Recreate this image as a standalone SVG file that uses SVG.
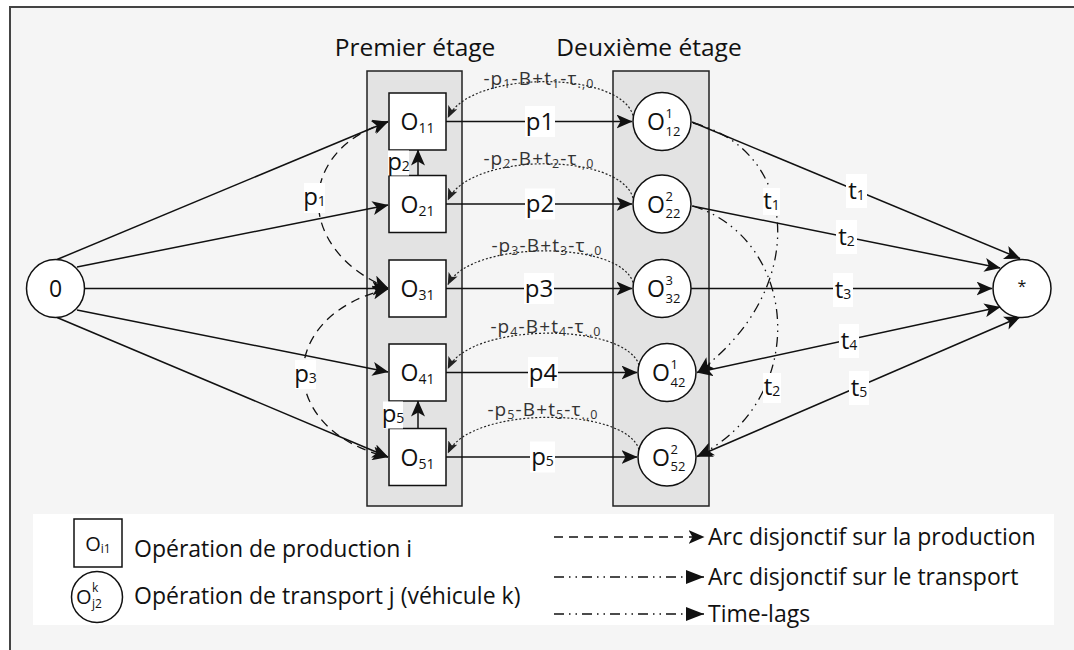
<svg xmlns="http://www.w3.org/2000/svg" width="1074" height="650" viewBox="0 0 1074 650">
<style>
text{font-family:"Open Sans","DejaVu Sans",sans-serif;fill:#111}
.title{font-size:24.5px}
.n{font-size:23px}
.ns{font-size:14px}
.ss{font-size:13px}
.el{font-size:24px}
.tl{font-size:19px;fill:#333;letter-spacing:1.1px}
.tls{font-size:12.5px}
.lg{font-size:23px}
.bg{fill:#fff}
.stage{fill:#e3e3e3;stroke:#222;stroke-width:1.5}
.box{fill:#fff;stroke:#111;stroke-width:1.5}
.e{fill:none;stroke:#111;stroke-width:1.5}
.dash{fill:none;stroke:#111;stroke-width:1.3;stroke-dasharray:9 6}
.dd{fill:none;stroke:#111;stroke-width:1.3;stroke-dasharray:10 5 1.5 5 1.5 5}
.dot{fill:none;stroke:#222;stroke-width:1.2;stroke-dasharray:2 2}
</style>
<defs>
<marker id="ah" viewBox="0 0 16 14" refX="15.5" refY="7" markerWidth="16" markerHeight="14" markerUnits="userSpaceOnUse" orient="auto-start-reverse"><path d="M0,0 L16,7 L0,14 L4,7 Z" fill="#111"/></marker>
<marker id="as" viewBox="0 0 12 10" refX="11.5" refY="5" markerWidth="12" markerHeight="10" markerUnits="userSpaceOnUse" orient="auto-start-reverse"><path d="M0,0 L12,5 L0,10 L3,5 Z" fill="#222"/></marker>
<marker id="at" viewBox="0 0 18 14" refX="18" refY="7" markerWidth="18" markerHeight="14" markerUnits="userSpaceOnUse" orient="auto"><path d="M0,0 L18,7 L0,14 Z" fill="#111"/></marker>
</defs>

<!-- frame -->
<rect x="10" y="7" width="1080" height="660" fill="#f5f5f5" stroke="#444" stroke-width="2"/>

<!-- stages -->
<g id="stage1"><rect class="stage" x="367" y="71" width="95" height="435"/><text class="title" x="415" y="56" text-anchor="middle">Premier étage</text></g>
<g id="stage2"><rect class="stage" x="613" y="71" width="96" height="435"/><text class="title" x="649" y="56" text-anchor="middle">Deuxième étage</text></g>

<!-- connectors -->
<g id="connectors">
<line class="e" x1="57" y1="259.5" x2="388" y2="121.5" marker-end="url(#ah)"/>
<line class="e" x1="77" y1="267" x2="388" y2="205" marker-end="url(#ah)"/>
<line class="e" x1="84.5" y1="288.5" x2="388" y2="288.5" marker-end="url(#ah)"/>
<line class="e" x1="77" y1="310" x2="388" y2="372" marker-end="url(#ah)"/>
<line class="e" x1="57" y1="317.5" x2="388" y2="457" marker-end="url(#ah)"/>

<path class="dash" d="M388 122 C295 150 295 250 388 288" marker-start="url(#ah)" marker-end="url(#ah)"/>
<path class="dash" d="M388 289 C275 315 275 430 388 457" marker-start="url(#ah)" marker-end="url(#ah)"/>

<line class="e" x1="446" y1="121.5" x2="632" y2="121.5" marker-end="url(#ah)"/>
<line class="e" x1="446" y1="204" x2="632" y2="204" marker-end="url(#ah)"/>
<line class="e" x1="446" y1="288.5" x2="632" y2="288.5" marker-end="url(#ah)"/>
<line class="e" x1="446" y1="372.5" x2="637" y2="372.5" marker-end="url(#ah)"/>
<line class="e" x1="446" y1="457" x2="637" y2="457" marker-end="url(#ah)"/>

<line class="e" x1="418" y1="175.5" x2="418" y2="150" marker-end="url(#ah)"/>
<line class="e" x1="418" y1="428.5" x2="418" y2="401" marker-end="url(#ah)"/>

<path class="dot" d="M633 115.5 C620 70 470 70 448 117.5" marker-end="url(#as)"/>
<path class="dot" d="M633 198 C620 152 470 152 448 200" marker-end="url(#as)"/>
<path class="dot" d="M633 282.5 C620 240 470 240 448 284.5" marker-end="url(#as)"/>
<path class="dot" d="M639 365 C625 322 470 322 448 368.5" marker-end="url(#as)"/>
<path class="dot" d="M639 449.5 C625 406 470 406 448 453" marker-end="url(#as)"/>

<line class="e" x1="692" y1="122" x2="1020" y2="258.5" marker-end="url(#ah)"/>
<line class="e" x1="692" y1="206" x2="1000" y2="268" marker-end="url(#ah)"/>
<line class="e" x1="691" y1="288.5" x2="992" y2="288.5" marker-end="url(#ah)"/>
<line class="e" x1="1000" y1="307" x2="697" y2="372.5" marker-start="url(#ah)" marker-end="url(#ah)"/>
<line class="e" x1="1020" y1="317" x2="697" y2="456.5" marker-start="url(#ah)" marker-end="url(#ah)"/>

<path class="dd" d="M693 123 C800 150 810 290 698 372" marker-end="url(#ah)"/>
<path class="dd" d="M693 206 C800 240 810 400 698 456" marker-end="url(#ah)"/>
</g>

<!-- nodes -->
<g id="n0"><circle class="box" cx="55.5" cy="288.5" r="29"/><text class="n" x="55.5" y="297" text-anchor="middle">0</text></g>
<g id="nstar"><circle class="box" cx="1022" cy="288.5" r="29"/><text x="1022" y="292" font-size="16" text-anchor="middle">*</text></g>

<g id="O11"><rect class="box" x="389" y="93" width="57" height="57"/><text class="n" x="417.5" y="130" text-anchor="middle">O<tspan class="ns" dy="3">11</tspan></text></g>
<g id="O21"><rect class="box" x="389" y="175.5" width="57" height="57"/><text class="n" x="417.5" y="212.5" text-anchor="middle">O<tspan class="ns" dy="3">21</tspan></text></g>
<g id="O31"><rect class="box" x="389" y="260" width="57" height="57"/><text class="n" x="417.5" y="297" text-anchor="middle">O<tspan class="ns" dy="3">31</tspan></text></g>
<g id="O41"><rect class="box" x="389" y="344" width="57" height="57"/><text class="n" x="417.5" y="381" text-anchor="middle">O<tspan class="ns" dy="3">41</tspan></text></g>
<g id="O51"><rect class="box" x="389" y="428.5" width="57" height="57"/><text class="n" x="417.5" y="465.5" text-anchor="middle">O<tspan class="ns" dy="3">51</tspan></text></g>

<g id="O12"><circle class="box" cx="662" cy="121.5" r="29"/><text class="n" x="647" y="130">O</text><text class="ss" x="665.5" y="118">1</text><text class="ss" x="665.5" y="135.5">12</text></g>
<g id="O22"><circle class="box" cx="662" cy="204" r="29"/><text class="n" x="647" y="212.5">O</text><text class="ss" x="665.5" y="200.5">2</text><text class="ss" x="665.5" y="218">22</text></g>
<g id="O32"><circle class="box" cx="662" cy="288.5" r="29"/><text class="n" x="647" y="297">O</text><text class="ss" x="665.5" y="285">3</text><text class="ss" x="665.5" y="302.5">32</text></g>
<g id="O42"><circle class="box" cx="667" cy="372.5" r="29"/><text class="n" x="652" y="381">O</text><text class="ss" x="670.5" y="369">1</text><text class="ss" x="670.5" y="386.5">42</text></g>
<g id="O52"><circle class="box" cx="667" cy="457" r="29"/><text class="n" x="652" y="465.5">O</text><text class="ss" x="670.5" y="453.5">2</text><text class="ss" x="670.5" y="471">52</text></g>

<!-- edge labels -->
<g id="labels">
<rect class="bg" x="304" y="183" width="21" height="30"/><text class="el" x="314.5" y="205" text-anchor="middle">p<tspan class="ns" dy="1">1</tspan></text>
<rect class="bg" x="295" y="360" width="21" height="29"/><text class="el" x="305.5" y="382" text-anchor="middle">p<tspan class="ns" dy="1">3</tspan></text>

<rect class="bg" x="388" y="150.5" width="21" height="25"/><text class="el" x="398.5" y="170" text-anchor="middle">p<tspan class="ns" dy="1">2</tspan></text>
<rect class="bg" x="383" y="401.5" width="20" height="27"/><text class="el" x="393" y="422" text-anchor="middle">p<tspan class="ns" dy="1">5</tspan></text>

<rect class="bg" x="525" y="106" width="30" height="31"/><text class="el" x="540" y="129.5" text-anchor="middle">p1</text>
<rect class="bg" x="525" y="188.5" width="30" height="31"/><text class="el" x="540" y="212" text-anchor="middle">p2</text>
<rect class="bg" x="524" y="273" width="30" height="31"/><text class="el" x="539" y="296.5" text-anchor="middle">p3</text>
<rect class="bg" x="528" y="357" width="30" height="31"/><text class="el" x="543" y="380.5" text-anchor="middle">p4</text>
<rect class="bg" x="530" y="441.5" width="25" height="31"/><text class="el" x="542.5" y="465" text-anchor="middle">p<tspan class="ns" dy="1">5</tspan></text>

<text class="tl" x="539" y="85" text-anchor="middle">-p<tspan class="tls" dy="3">1</tspan><tspan dy="-3">-B+t</tspan><tspan class="tls" dy="3">1</tspan><tspan dy="-3">-τ</tspan><tspan class="tls" dy="3">.,0</tspan></text>
<text class="tl" x="539" y="165" text-anchor="middle">-p<tspan class="tls" dy="3">2</tspan><tspan dy="-3">-B+t</tspan><tspan class="tls" dy="3">2</tspan><tspan dy="-3">-τ</tspan><tspan class="tls" dy="3">.,0</tspan></text>
<text class="tl" x="547" y="252" text-anchor="middle">-p<tspan class="tls" dy="3">3</tspan><tspan dy="-3">-B+t</tspan><tspan class="tls" dy="3">3</tspan><tspan dy="-3">-τ</tspan><tspan class="tls" dy="3">.,0</tspan></text>
<text class="tl" x="546" y="333" text-anchor="middle">-p<tspan class="tls" dy="3">4</tspan><tspan dy="-3">-B+t</tspan><tspan class="tls" dy="3">4</tspan><tspan dy="-3">-τ</tspan><tspan class="tls" dy="3">.,0</tspan></text>
<text class="tl" x="543" y="416" text-anchor="middle">-p<tspan class="tls" dy="3">5</tspan><tspan dy="-3">-B+t</tspan><tspan class="tls" dy="3">5</tspan><tspan dy="-3">-τ</tspan><tspan class="tls" dy="3">.,0</tspan></text>

<rect class="bg" x="846" y="174" width="21" height="34"/><text class="el" x="856.5" y="199" text-anchor="middle">t<tspan class="ns" dy="1">1</tspan></text>
<rect class="bg" x="836" y="220" width="21" height="34"/><text class="el" x="846.5" y="245" text-anchor="middle">t<tspan class="ns" dy="1">2</tspan></text>
<rect class="bg" x="833" y="273" width="20" height="34"/><text class="el" x="843" y="298" text-anchor="middle">t<tspan class="ns" dy="1">3</tspan></text>
<rect class="bg" x="839" y="324" width="20" height="34"/><text class="el" x="849" y="349" text-anchor="middle">t<tspan class="ns" dy="1">4</tspan></text>
<rect class="bg" x="849" y="371" width="20" height="34"/><text class="el" x="859" y="396" text-anchor="middle">t<tspan class="ns" dy="1">5</tspan></text>

<rect class="bg" x="763" y="188" width="17" height="27"/><text class="el" x="771.5" y="209" text-anchor="middle">t<tspan class="ns" dy="1">1</tspan></text>
<rect class="bg" x="763" y="373" width="18" height="30"/><text class="el" x="772" y="395" text-anchor="middle">t<tspan class="ns" dy="1">2</tspan></text>
</g>

<!-- legend -->
<g id="legend">
<rect x="33" y="514" width="1021" height="111" fill="#fff"/>
<rect class="box" x="74" y="519" width="48" height="48"/><text x="98" y="551" font-size="20" text-anchor="middle">O<tspan font-size="12" dy="2">i1</tspan></text>
<text class="lg" x="134" y="557">Opération de production i</text>
<circle class="box" cx="97" cy="597" r="25.5"/><text x="76" y="604" font-size="20">O</text><text x="92" y="592" font-size="12">k</text><text x="92" y="608" font-size="12">j2</text>
<text class="lg" x="134" y="604">Opération de transport j (véhicule k)</text>
<line class="dash" x1="554" y1="537" x2="704" y2="537" marker-end="url(#ah)"/>
<text class="lg" x="708" y="545">Arc disjonctif sur la production</text>
<line class="dd" x1="554" y1="577" x2="704" y2="577" marker-end="url(#at)"/>
<text class="lg" x="708" y="585">Arc disjonctif sur le transport</text>
<line class="dd" x1="554" y1="614" x2="704" y2="614" marker-end="url(#at)"/>
<text class="lg" x="708" y="622">Time-lags</text>
</g>
</svg>
